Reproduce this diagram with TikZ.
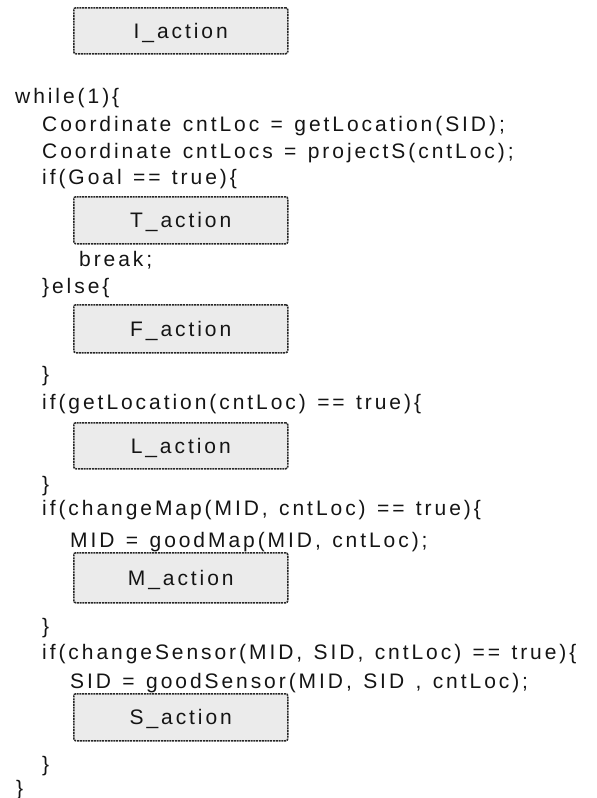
\documentclass[tikz,border=0pt]{standalone}
\usepackage{fontspec}
\setmainfont{Liberation Sans}[LetterSpace=14,WordSpace=1.3]
\begin{document}
\begin{tikzpicture}[x=1pt,y=-1pt,
  code/.style={anchor=base west, inner sep=0pt, font=\fontsize{21}{25}\selectfont, text=black!92},
  actbox/.style={draw=black!85, fill=black!8, dash pattern=on 2pt off 0.8pt, line width=1.5pt, rounded corners=2pt,
    anchor=north west, minimum width=214pt, inner sep=0pt, text height=15pt, text depth=0pt,
    font=\fontsize{21}{25}\selectfont, text=black!92}]
\useasboundingbox (0,0) rectangle (597,798);
\node[actbox, minimum height=46pt] (I) at (73,7) {I\_action};
\node[code] (w) at (15,103) {while(1)\{};
\node[code] (c1) at (42,131) {Coordinate cntLoc = getLocation(SID);};
\node[code] (c2) at (42,158) {Coordinate cntLocs = projectS(cntLoc);};
\node[code] (g) at (42,184) {if(Goal == true)\{};
\node[actbox, minimum height=47pt] (T) at (73,196) {T\_action};
\node[code] (b) at (79,266) {break;};
\node[code] (e) at (42,293) {\}else\{};
\node[actbox, minimum height=48pt] (F) at (73,304) {F\_action};
\node[code] (c3) at (42,381) {\}};
\node[code] (gl) at (42,409) {if(getLocation(cntLoc) == true)\{};
\node[actbox, minimum height=46pt] (L) at (73,422) {L\_action};
\node[code] (c4) at (42,491) {\}};
\node[code] (cm) at (42,515) {if(changeMap(MID, cntLoc) == true)\{};
\node[code] (mid) at (70,547) {MID = goodMap(MID, cntLoc);};
\node[actbox, minimum height=50pt] (M) at (73,552) {M\_action};
\node[code] (c5) at (42,633) {\}};
\node[code] (cs) at (42,659) {if(changeSensor(MID, SID, cntLoc) == true)\{};
\node[code] (sid) at (70,688) {SID = goodSensor(MID, SID , cntLoc);};
\node[actbox, minimum height=47pt] (S) at (73,693) {S\_action};
\node[code] (c6) at (42,771) {\}};
\node[code] (c7) at (16,795) {\}};
\end{tikzpicture}
\end{document}
